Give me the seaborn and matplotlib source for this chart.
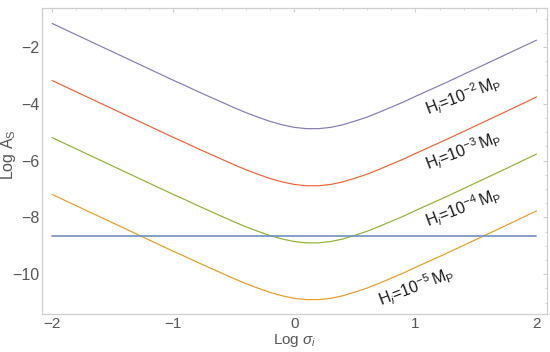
import numpy as np
import pandas as pd
import matplotlib
matplotlib.use('Agg')
import matplotlib.pyplot as plt
from matplotlib.ticker import MultipleLocator
import seaborn as sns

# values
sigma = [-2.0, -1.75, -1.5, -1.25, -1.0, -0.9, -0.8, -0.7, -0.6, -0.5, -0.4, -0.3, -0.2, -0.1,
         0.0, 0.1, 0.2, 0.3, 0.4, 0.5, 0.6, 0.7, 0.8, 0.9, 1.0, 1.25, 1.5, 1.75, 2.0]
logA_h2 = [-1.17, -1.67, -2.17, -2.67, -3.17, -3.36, -3.56, -3.75, -3.94, -4.13, -4.31, -4.47, -4.62, -4.74,
           -4.83, -4.875, -4.875, -4.83, -4.74, -4.61, -4.47, -4.30, -4.12, -3.94, -3.74, -3.26, -2.76, -2.26, -1.76]
logA_h3 = [-3.18, -3.68, -4.18, -4.68, -5.18, -5.37, -5.57, -5.76, -5.95, -6.14, -6.32, -6.48, -6.63, -6.75,
           -6.84, -6.885, -6.885, -6.84, -6.75, -6.62, -6.48, -6.31, -6.13, -5.95, -5.75, -5.27, -4.77, -4.27, -3.76]
logA_h4 = [-5.19, -5.69, -6.19, -6.69, -7.19, -7.38, -7.58, -7.77, -7.96, -8.15, -8.33, -8.49, -8.64, -8.76,
           -8.85, -8.895, -8.895, -8.85, -8.76, -8.63, -8.49, -8.32, -8.14, -7.96, -7.76, -7.28, -6.78, -6.28, -5.77]
logA_h5 = [-7.19, -7.69, -8.19, -8.69, -9.19, -9.38, -9.58, -9.77, -9.96, -10.15, -10.33, -10.49, -10.64, -10.76,
           -10.85, -10.895, -10.895, -10.85, -10.76, -10.63, -10.49, -10.32, -10.14, -9.96, -9.76, -9.28, -8.78, -8.28, -7.77]
bound_x = [-2.0, 2.0]
bound_y = [-8.67, -8.67]

series_names = ['h2', 'h3', 'h4', 'h5']
series_vals = [logA_h2, logA_h3, logA_h4, logA_h5]
series_colors = {'h2': '#8778B3', 'h3': '#EB6235', 'h4': '#8FB032', 'h5': '#E19C24'}
label_texts = [r'$\mathrm{H}_{i}$=$\mathrm{10^{-2}\,M_P}$', r'$\mathrm{H}_{i}$=$\mathrm{10^{-3}\,M_P}$',
               r'$\mathrm{H}_{i}$=$\mathrm{10^{-4}\,M_P}$', r'$\mathrm{H}_{i}$=$\mathrm{10^{-5}\,M_P}$']
label_x = [1.395, 1.395, 1.395, 1.006]
label_y = [-3.72, -5.67, -7.65, -10.43]

sns.set_style('white')
plt.rcParams['font.family'] = ['Liberation Sans', 'DejaVu Sans']
plt.rcParams['mathtext.fontset'] = 'custom'
plt.rcParams['mathtext.rm'] = 'Liberation Sans'
plt.rcParams['mathtext.it'] = 'Liberation Sans:italic'

df = pd.concat([pd.DataFrame({'sigma': sigma, 'logA': v, 'H': n}) for n, v in zip(series_names, series_vals)])

fig = plt.figure(figsize=(5.5, 3.52), dpi=100)
ax = fig.add_axes([0.0764, 0.108, 0.9182, 0.8693])

sns.lineplot(data=df, x='sigma', y='logA', hue='H', palette=series_colors, estimator=None,
             sort=False, linewidth=0.85, legend=False, ax=ax)
sns.lineplot(x=bound_x, y=bound_y, color='#6F8FBF', linewidth=1.2, ax=ax)

for t, lx, ly in zip(label_texts, label_x, label_y):
    ax.text(lx, ly, t, rotation=21, rotation_mode='anchor', ha='center', va='center',
            fontsize=11.5, color='#1a1a1a')

ax.set_xlim(-2.083, 2.087)
ax.set_ylim(-11.4, -0.627)
ax.xaxis.set_major_locator(MultipleLocator(1))
ax.xaxis.set_minor_locator(MultipleLocator(0.2))
ax.yaxis.set_major_locator(MultipleLocator(2))
ax.yaxis.set_minor_locator(MultipleLocator(0.5))

frame_col = '#cfcfcf'
for s in ax.spines.values():
    s.set_color(frame_col)
    s.set_linewidth(0.9)
ax.tick_params(which='both', direction='in', top=True, right=True, color=frame_col,
               labelcolor='#555555', labelsize=11.5)
ax.tick_params(axis='x', which='both', labelsize=11)
ax.tick_params(which='major', length=3.2, width=0.8)
ax.tick_params(which='minor', length=1.7, width=0.6)
ax.tick_params(axis='x', which='major', pad=2)
ax.tick_params(axis='y', which='major', pad=2)

ax.set_xlabel(r'Log $\mathit{\sigma_i}$', fontsize=11, color='#555555')
ax.set_ylabel(r'Log $\mathrm{A_S}$', fontsize=11.5, color='#555555')
ax.xaxis.set_label_coords(0.5, -0.059)
ax.yaxis.set_label_coords(-0.047, 0.52)

fig.savefig('out.png', dpi=100)
